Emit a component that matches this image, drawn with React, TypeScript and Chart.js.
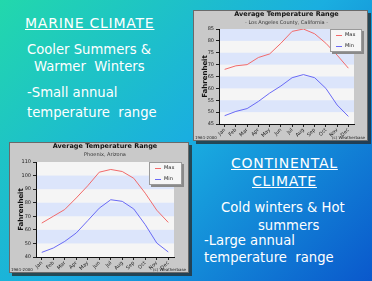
import React, { useEffect, useRef } from "react";
import { Chart, registerables } from "chart.js";
Chart.register(...registerables);

const months = ["Jan", "Feb", "Mar", "Apr", "May", "Jun", "Jul", "Aug", "Sep", "Oct", "Nov", "Dec"];
const laMax = [68, 69.5, 70, 73, 74.5, 79, 84, 85, 83, 79, 74, 68.5];
const laMin = [48.5, 50.3, 51.5, 54.5, 58, 61, 64.5, 65.8, 64.5, 60, 53, 48.2];
const phxMax = [65, 70, 75, 83.5, 92.5, 102.5, 104.5, 103, 98, 87, 74.5, 65.5];
const phxMin = [43.4, 46.6, 51.5, 57.7, 66.8, 76, 82.2, 81, 75.4, 63.8, 50.3, 43.7];
const laYTicks = [45, 50, 55, 60, 65, 70, 75, 80, 85];
const phxYTicks = [40, 50, 60, 70, 80, 90, 100, 110];
const seriesNames = ["Max", "Min"];
const seriesColors = ["#f26a6a", "#6a6af5"];

type P = {
  w: number; h: number; max: number[]; min: number[]; yTicks: number[];
  padTop: number; padRight: number; yw: number; xh: number;
  title: string; subtitle: string; footL: string; footR: string;
  legend: { x: number; y: number; w: number; h: number };
};

function makeChart(canvas: HTMLCanvasElement, p: P) {
  const FONT = "DejaVu Sans";
  const deco = {
    id: "deco",
    beforeDraw(chart: any) {
      const ctx = chart.ctx;
      const { width, height } = chart;
      ctx.save();
      ctx.fillStyle = "#c9c9c9";
      ctx.fillRect(0, 0, width, height);
      ctx.strokeStyle = "#6a6a6a";
      ctx.lineWidth = 1;
      ctx.strokeRect(0.5, 0.5, width - 1, height - 1);
      const a = chart.chartArea;
      ctx.fillStyle = "#f5f5f5";
      ctx.fillRect(a.left, a.top, a.right - a.left, a.bottom - a.top);
      const ys = chart.scales.y;
      const t = p.yTicks;
      for (let i = 0; i < t.length - 1; i++) {
        if (i % 2 === 1) {
          const y1 = ys.getPixelForValue(t[i + 1]);
          const y0 = ys.getPixelForValue(t[i]);
          ctx.fillStyle = "#dce5fb";
          ctx.fillRect(a.left, y1, a.right - a.left, y0 - y1);
        }
      }
      ctx.restore();
    },
    afterDraw(chart: any) {
      const ctx = chart.ctx;
      const { width, height } = chart;
      const a = chart.chartArea;
      ctx.save();
      ctx.fillStyle = "#111";
      ctx.textAlign = "center";
      ctx.textBaseline = "middle";
      ctx.font = `bold 6.5px ${FONT}`;
      ctx.fillText(p.title, (a.left + a.right) / 2, 4.5);
      ctx.font = `5px ${FONT}`;
      ctx.fillStyle = "#333";
      ctx.fillText(p.subtitle, (a.left + a.right) / 2, 13);
      ctx.save();
      ctx.translate(12, (a.top + a.bottom) / 2);
      ctx.rotate(-Math.PI / 2);
      ctx.font = `bold 7px ${FONT}`;
      ctx.fillStyle = "#111";
      ctx.fillText("Fahrenheit", 0, 0);
      ctx.restore();
      ctx.font = `4px ${FONT}`;
      ctx.fillStyle = "#222";
      ctx.textAlign = "left";
      ctx.fillText(p.footL, 2, height - 3);
      ctx.textAlign = "right";
      ctx.fillText(p.footR, width - 3, height - 3);
      // legend
      const L = p.legend;
      ctx.fillStyle = "#8a8a8a";
      ctx.fillRect(L.x + 2, L.y + 2, L.w, L.h);
      ctx.fillStyle = "#f6f6f6";
      ctx.fillRect(L.x, L.y, L.w, L.h);
      ctx.strokeStyle = "#9a9a9a";
      ctx.strokeRect(L.x + 0.5, L.y + 0.5, L.w - 1, L.h - 1);
      ctx.textAlign = "left";
      ctx.font = `5px ${FONT}`;
      chart.data.datasets.forEach((ds: any, i: number) => {
        const yy = L.y + 6 + i * 11;
        ctx.strokeStyle = ds.borderColor;
        ctx.lineWidth = 1;
        ctx.beginPath();
        ctx.moveTo(L.x + 6, yy + 0.5);
        ctx.lineTo(L.x + 12, yy + 0.5);
        ctx.stroke();
        ctx.fillStyle = "#222";
        ctx.fillText(ds.label, L.x + 15, yy);
      });
      ctx.restore();
    },
  };
  return new Chart(canvas, {
    type: "line",
    data: {
      labels: months,
      datasets: [
        { label: seriesNames[0], data: p.max, borderColor: seriesColors[0], borderWidth: 1, pointRadius: 0, tension: 0 },
        { label: seriesNames[1], data: p.min, borderColor: seriesColors[1], borderWidth: 1, pointRadius: 0, tension: 0 },
      ],
    },
    options: {
      responsive: false,
      animation: false,
      devicePixelRatio: 1,
      layout: { padding: { top: p.padTop, right: p.padRight, left: 0, bottom: 0 } },
      plugins: { legend: { display: false }, tooltip: { enabled: false }, title: { display: false } },
      scales: {
        x: {
          offset: true,
          grid: { display: true, drawOnChartArea: false, tickLength: 3, color: "#222" },
          border: { color: "#111" },
          ticks: { font: { size: 5, family: FONT }, color: "#222", maxRotation: 45, minRotation: 45, padding: 0, autoSkip: false },
          afterFit: (s: any) => { s.height = p.xh; },
        },
        y: {
          min: p.yTicks[0],
          max: p.yTicks[p.yTicks.length - 1],
          afterBuildTicks: (s: any) => { s.ticks = p.yTicks.map((v) => ({ value: v })); },
          grid: { display: true, drawOnChartArea: false, tickLength: 3, color: "#222" },
          border: { color: "#111" },
          ticks: { font: { size: 5, family: FONT }, color: "#222", padding: 2 },
          afterFit: (s: any) => { s.width = p.yw; },
        },
      },
    },
    plugins: [deco],
  } as any);
}

function ChartBox({ left, top, p }: { left: number; top: number; p: P }) {
  const ref = useRef<HTMLCanvasElement>(null);
  useEffect(() => {
    const c = makeChart(ref.current!, p);
    return () => c.destroy();
  }, []);
  return (
    <>
      <div style={{ position: "absolute", left: left + 3, top: top + 3, width: p.w, height: p.h, background: "rgba(40,40,40,0.75)" }} />
      <canvas ref={ref} width={p.w} height={p.h} style={{ position: "absolute", left, top, width: p.w, height: p.h }} />
    </>
  );
}

const laP: P = {
  w: 175, h: 131, max: laMax, min: laMin, yTicks: laYTicks,
  padTop: 19, padRight: 14, yw: 26, xh: 17,
  title: "Average Temperature Range", subtitle: "- Los Angeles County, California -",
  footL: "1961-2000", footR: "(c) Weatherbase",
  legend: { x: 137, y: 19, w: 32, h: 23 },
};
const phxP: P = {
  w: 180, h: 131, max: phxMax, min: phxMin, yTicks: phxYTicks,
  padTop: 20, padRight: 15, yw: 27, xh: 16,
  title: "Average Temperature Range", subtitle: "Phoenix, Arizona",
  footL: "1961-2000", footR: "(c) Weatherbase",
  legend: { x: 140, y: 20, w: 33, h: 23 },
};

const txt = (left: number, top: number, s: string, u = false) => (
  <div style={{
    position: "absolute", left, top, whiteSpace: "pre", fontFamily: "DejaVu Sans",
    fontSize: u ? 14 : 13.2, letterSpacing: u ? "0.75px" : "0px", lineHeight: "16px", color: "#fff",
    textDecoration: u ? "underline" : "none",
  }}>{s}</div>
);

export default function App() {
  return (
    <div style={{ position: "fixed", left: 0, top: 0, width: 372, height: 281, overflow: "hidden", background: "linear-gradient(135deg, #22d8ac 0%, #1aaee0 50%, #0a58cc 100%)" }}>
      {txt(25, 15, "MARINE CLIMATE", true)}
      {txt(27, 42, "Cooler Summers &")}
      {txt(34, 59, "Warmer  Winters")}
      {txt(27, 85, "-Small annual")}
      {txt(27, 105, "temperature  range")}
      <ChartBox left={193} top={10} p={laP} />
      <ChartBox left={9} top={142} p={phxP} />
      {txt(231, 155, "CONTINENTAL", true)}
      {txt(252, 173, "CLIMATE", true)}
      {txt(221, 200, "Cold winters & Hot")}
      {txt(258, 218, "summers")}
      {txt(204, 233, "-Large annual")}
      {txt(204, 250, "temperature  range")}
    </div>
  );
}
